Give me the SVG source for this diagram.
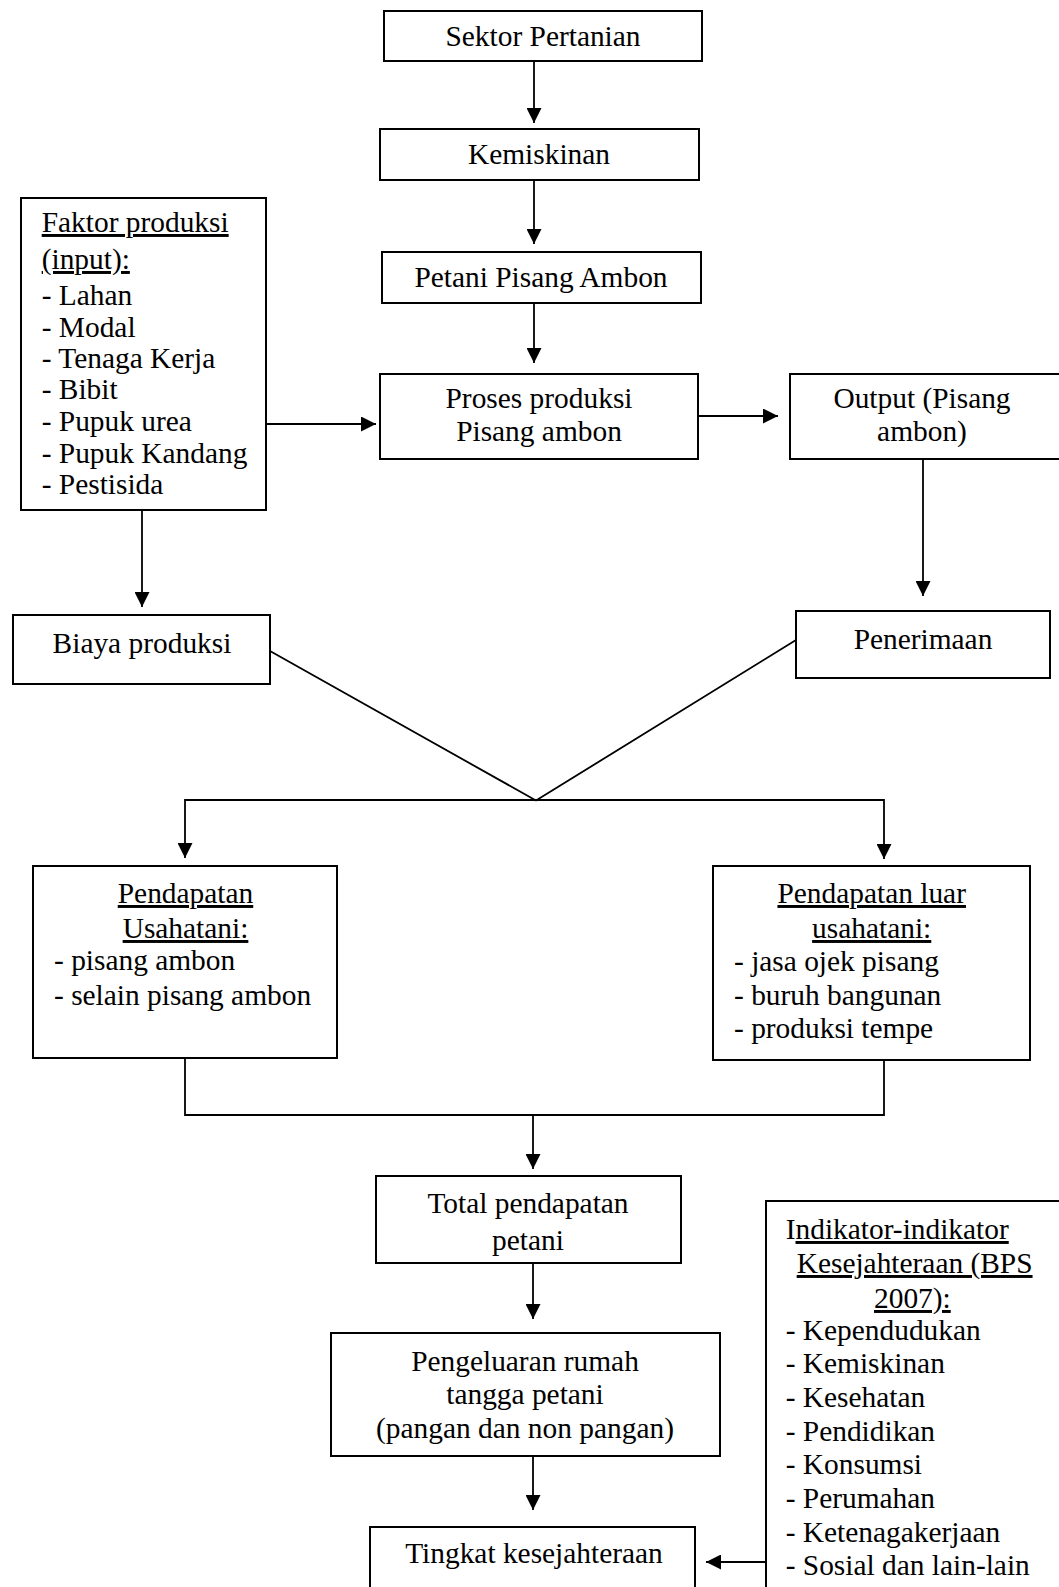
<svg xmlns="http://www.w3.org/2000/svg" width="1059" height="1587" viewBox="0 0 1059 1587">
<defs>
<style>
.box{fill:#fff;stroke:#000;stroke-width:2}
.ln{fill:none;stroke:#000;stroke-width:1.8}
text{font-family:"Liberation Serif","Times New Roman",serif;font-size:29.4px;fill:#000}
.c{text-anchor:middle}
.u{text-decoration:underline}
</style>
<marker id="ah" viewBox="0 0 10 10" refX="10" refY="5" markerWidth="15" markerHeight="15" markerUnits="userSpaceOnUse" orient="auto">
<path d="M0,0 L10,5 L0,10 z" fill="#000"/>
</marker>
</defs>
<rect width="1059" height="1587" fill="#fff"/>

<g id="connectors">
<path class="ln" d="M534,61 V123" marker-end="url(#ah)"/>
<path class="ln" d="M534,180 V244" marker-end="url(#ah)"/>
<path class="ln" d="M534,303 V363" marker-end="url(#ah)"/>
<path class="ln" d="M266,424 H376" marker-end="url(#ah)"/>
<path class="ln" d="M698,416 H778" marker-end="url(#ah)"/>
<path class="ln" d="M923,459 V596" marker-end="url(#ah)"/>
<path class="ln" d="M142,510 V607" marker-end="url(#ah)"/>
<path class="ln" d="M270,651 L536,800.5 L796,640"/>
<path class="ln" d="M536,800 H185 V858" marker-end="url(#ah)"/>
<path class="ln" d="M536,800 H884 V859" marker-end="url(#ah)"/>
<path class="ln" d="M185,1058 V1115 H884 V1060"/>
<path class="ln" d="M533,1115 V1169" marker-end="url(#ah)"/>
<path class="ln" d="M533,1263 V1319" marker-end="url(#ah)"/>
<path class="ln" d="M533,1456 V1510" marker-end="url(#ah)"/>
<path class="ln" d="M766,1562 H706" marker-end="url(#ah)"/>
</g>

<g id="sektor">
<rect class="box" x="384" y="11" width="318" height="50"/>
<text class="c" x="543" y="46">Sektor Pertanian</text>
</g>
<g id="kemiskinan">
<rect class="box" x="380" y="129" width="319" height="51"/>
<text class="c" x="539" y="164">Kemiskinan</text>
</g>
<g id="petani">
<rect class="box" x="382" y="252" width="319" height="51"/>
<text class="c" x="541" y="287">Petani Pisang Ambon</text>
</g>
<g id="proses">
<rect class="box" x="380" y="374" width="318" height="85"/>
<text class="c" x="539" y="408">Proses produksi</text>
<text class="c" x="539" y="441">Pisang ambon</text>
</g>
<g id="output">
<rect class="box" x="790" y="374" width="290" height="85"/>
<text class="c" x="922" y="408">Output (Pisang</text>
<text class="c" x="922" y="441">ambon)</text>
</g>
<g id="faktor">
<rect class="box" x="21" y="198" width="245" height="312"/>
<text x="41.7" y="232" class="u">Faktor produksi</text>
<text x="41.7" y="269" class="u">(input):</text>
<text x="41.7" y="305">- Lahan</text>
<text x="41.7" y="337">- Modal</text>
<text x="41.7" y="368">- Tenaga Kerja</text>
<text x="41.7" y="399">- Bibit</text>
<text x="41.7" y="431">- Pupuk urea</text>
<text x="41.7" y="463">- Pupuk Kandang</text>
<text x="41.7" y="494">- Pestisida</text>
</g>
<g id="biaya">
<rect class="box" x="13" y="615" width="257" height="69"/>
<text class="c" x="142" y="653">Biaya produksi</text>
</g>
<g id="penerimaan">
<rect class="box" x="796" y="611" width="254" height="67"/>
<text class="c" x="923" y="649">Penerimaan</text>
</g>
<g id="usahatani">
<rect class="box" x="33" y="866" width="304" height="192"/>
<text class="c u" x="185.5" y="903">Pendapatan</text>
<text class="c u" x="185.5" y="938">Usahatani:</text>
<text x="54" y="970">- pisang ambon</text>
<text x="54" y="1005">- selain pisang ambon</text>
</g>
<g id="luar">
<rect class="box" x="713" y="866" width="317" height="194"/>
<text class="c u" x="871.7" y="903">Pendapatan luar</text>
<text class="c u" x="871.7" y="938">usahatani:</text>
<text x="734" y="971">- jasa ojek pisang</text>
<text x="734" y="1005">- buruh bangunan</text>
<text x="734" y="1038">- produksi tempe</text>
</g>
<g id="total">
<rect class="box" x="376" y="1176" width="305" height="87"/>
<text class="c" x="528" y="1213">Total pendapatan</text>
<text class="c" x="528" y="1250">petani</text>
</g>
<g id="pengeluaran">
<rect class="box" x="331" y="1333" width="389" height="123"/>
<text class="c" x="525" y="1371">Pengeluaran rumah</text>
<text class="c" x="525" y="1404">tangga petani</text>
<text class="c" x="525" y="1438">(pangan dan non pangan)</text>
</g>
<g id="tingkat">
<rect class="box" x="370" y="1527" width="325" height="80"/>
<text class="c" x="534" y="1563">Tingkat kesejahteraan</text>
</g>
<g id="indikator">
<rect class="box" x="766" y="1201" width="320" height="420"/>
<text x="785.7" y="1239">I<tspan class="u">ndikator-indikator</tspan></text>
<text x="796.7" y="1273" class="u">Kesejahteraan (BPS</text>
<text x="874" y="1308" class="u">2007):</text>
<text x="785.7" y="1340">- Kependudukan</text>
<text x="785.7" y="1373">- Kemiskinan</text>
<text x="785.7" y="1407">- Kesehatan</text>
<text x="785.7" y="1441">- Pendidikan</text>
<text x="785.7" y="1474">- Konsumsi</text>
<text x="785.7" y="1508">- Perumahan</text>
<text x="785.7" y="1542">- Ketenagakerjaan</text>
<text x="785.7" y="1575">- Sosial dan lain-lain</text>
</g>
</svg>
